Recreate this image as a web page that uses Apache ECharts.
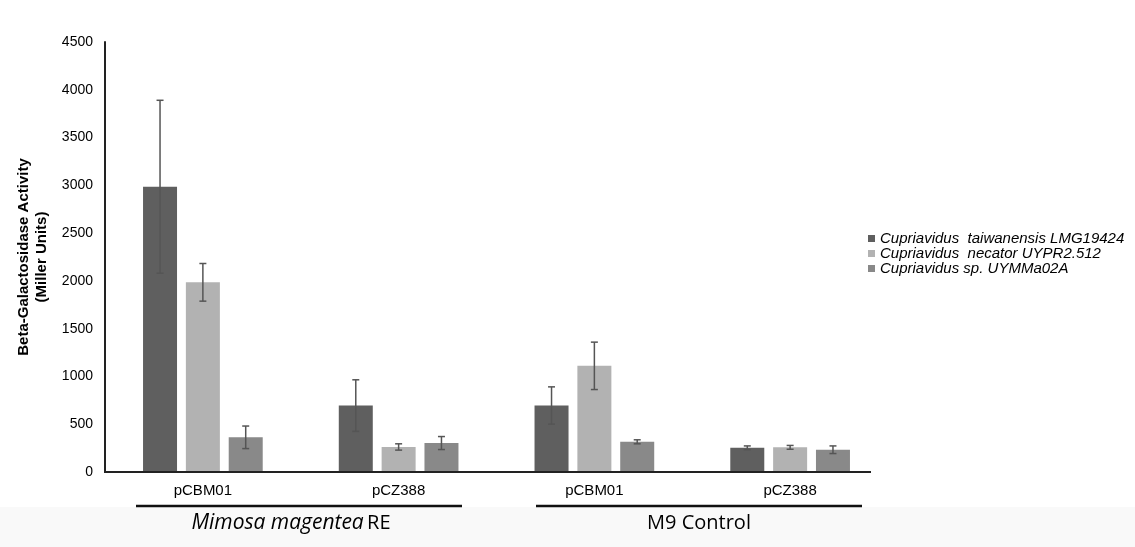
<!DOCTYPE html>
<html>
<head>
<meta charset="utf-8">
<script src="https://cdn.jsdelivr.net/npm/echarts@6/dist/echarts.min.js"></script>
<style>
  html, body { margin: 0; padding: 0; background: #fff; }
  #chart { width: 1135px; height: 547px; }
</style>
</head>
<body>
<div id="chart"></div>
<script>
const categories = ['pCBM01', 'pCZ388', 'pCBM01', 'pCZ388'];
const seriesNames = [
  'Cupriavidus  taiwanensis LMG19424',
  'Cupriavidus  necator UYPR2.512',
  'Cupriavidus sp. UYMMa02A'
];
const taiwanensis = [2985, 695, 696, 253];
const taiwanensisErr = [905, 270, 195, 20];
const necator = [1985, 262, 1111, 258];
const necatorErr = [197, 33, 248, 20];
const spUYMM = [363, 303, 316, 233];
const spUYMMErr = [118, 68, 21, 40];
const yTicks = [0, 500, 1000, 1500, 2000, 2500, 3000, 3500, 4000, 4500];

const colors = ['#5f5f5f', '#b2b2b2', '#898989'];
const BAR_W = 34;
const BAR_GAP = 0.26;
const FONT = 'Arial, "Liberation Sans", sans-serif';

const values = [taiwanensis, necator, spUYMM];
const errors = [taiwanensisErr, necatorErr, spUYMMErr];

// error bars drawn next to each grouped bar
function errorSeries(k) {
  const offset = (k - 1) * BAR_W * (1 + BAR_GAP);
  return {
    type: 'custom',
    name: seriesNames[k] + ' err',
    z: 5,
    silent: true,
    data: values[k].map((v, i) => [i, v - errors[k][i], v + errors[k][i]]),
    renderItem: (params, api) => {
      const lo = api.coord([api.value(0), api.value(1)]);
      const hi = api.coord([api.value(0), api.value(2)]);
      const x = lo[0] + offset;
      const style = { stroke: '#555', lineWidth: 1.5 };
      return {
        type: 'group',
        children: [
          { type: 'line', shape: { x1: x, y1: lo[1], x2: x, y2: hi[1] }, style },
          { type: 'line', shape: { x1: x - 3.5, y1: hi[1], x2: x + 3.5, y2: hi[1] }, style },
          { type: 'line', shape: { x1: x - 3.5, y1: lo[1], x2: x + 3.5, y2: lo[1] }, style }
        ]
      };
    }
  };
}

const chart = echarts.init(document.getElementById('chart'));

const option = {
  animation: false,
  color: colors,
  textStyle: { fontFamily: FONT },
  grid: { left: 105, right: 247, top: 42, bottom: 75 },
  legend: {
    data: seriesNames,
    orient: 'vertical',
    left: 863,
    top: 226,
    icon: 'rect',
    itemWidth: 7,
    itemHeight: 7,
    itemGap: 0,
    textStyle: { fontFamily: FONT, fontSize: 15, fontStyle: 'italic', color: '#000' }
  },
  xAxis: {
    type: 'category',
    data: categories,
    axisLine: { show: false },
    axisTick: { show: false },
    axisLabel: { color: '#000', fontSize: 15, margin: 11, fontFamily: FONT }
  },
  yAxis: {
    type: 'value',
    min: yTicks[0],
    max: yTicks[yTicks.length - 1],
    interval: 500,
    name: 'Beta-Galactosidase Activity\n(Miller Units)',
    nameLocation: 'middle',
    nameGap: 46,
    nameTextStyle: { color: '#000', fontWeight: 'bold', fontSize: 15, lineHeight: 18, fontFamily: FONT },
    axisLine: { show: true, lineStyle: { color: '#222', width: 2 } },
    axisTick: { show: false },
    splitLine: { show: false },
    axisLabel: { color: '#000', fontSize: 14, margin: 12, fontFamily: FONT, formatter: v => String(v) }
  },
  series: [
    ...seriesNames.map((name, k) => ({
      name,
      type: 'bar',
      barWidth: BAR_W,
      barGap: (BAR_GAP * 100) + '%',
      data: values[k]
    })),
    errorSeries(0),
    errorSeries(1),
    errorSeries(2)
  ]
};

chart.setOption(option);

// x axis line (stops short of the grid edge, like the original), group brackets and labels
const y0 = chart.convertToPixel({ yAxisIndex: 0 }, 0);
chart.setOption({
  graphic: [
    { type: 'rect', z: -10, shape: { x: 0, y: 507, width: 1135, height: 40 }, style: { fill: '#f9f9f9' } },
    { type: 'line', z: 10, shape: { x1: 104, y1: y0, x2: 871, y2: y0 }, style: { stroke: '#222', lineWidth: 2 } },
    { type: 'line', z: 10, shape: { x1: 136, y1: 506, x2: 462, y2: 506 }, style: { stroke: '#111', lineWidth: 2.5 } },
    { type: 'line', z: 10, shape: { x1: 536, y1: 506, x2: 862, y2: 506 }, style: { stroke: '#111', lineWidth: 2.5 } },
    {
      type: 'text', z: 10,
      style: {
        x: 291, y: 523, align: 'center', verticalAlign: 'middle',
        text: '{i|Mimosa magentea} {n|RE}',
        rich: {
          i: { fontFamily: 'Open Sans', fontSize: 21, fontStyle: 'italic', fill: '#000' },
          n: { fontFamily: 'Open Sans', fontSize: 20, fill: '#000' }
        }
      }
    },
    {
      type: 'text', z: 10,
      style: {
        x: 699, y: 523, align: 'center', verticalAlign: 'middle',
        text: 'M9 Control', fontFamily: 'Open Sans', fontSize: 20, fill: '#000'
      }
    }
  ]
});
</script>
</body>
</html>
